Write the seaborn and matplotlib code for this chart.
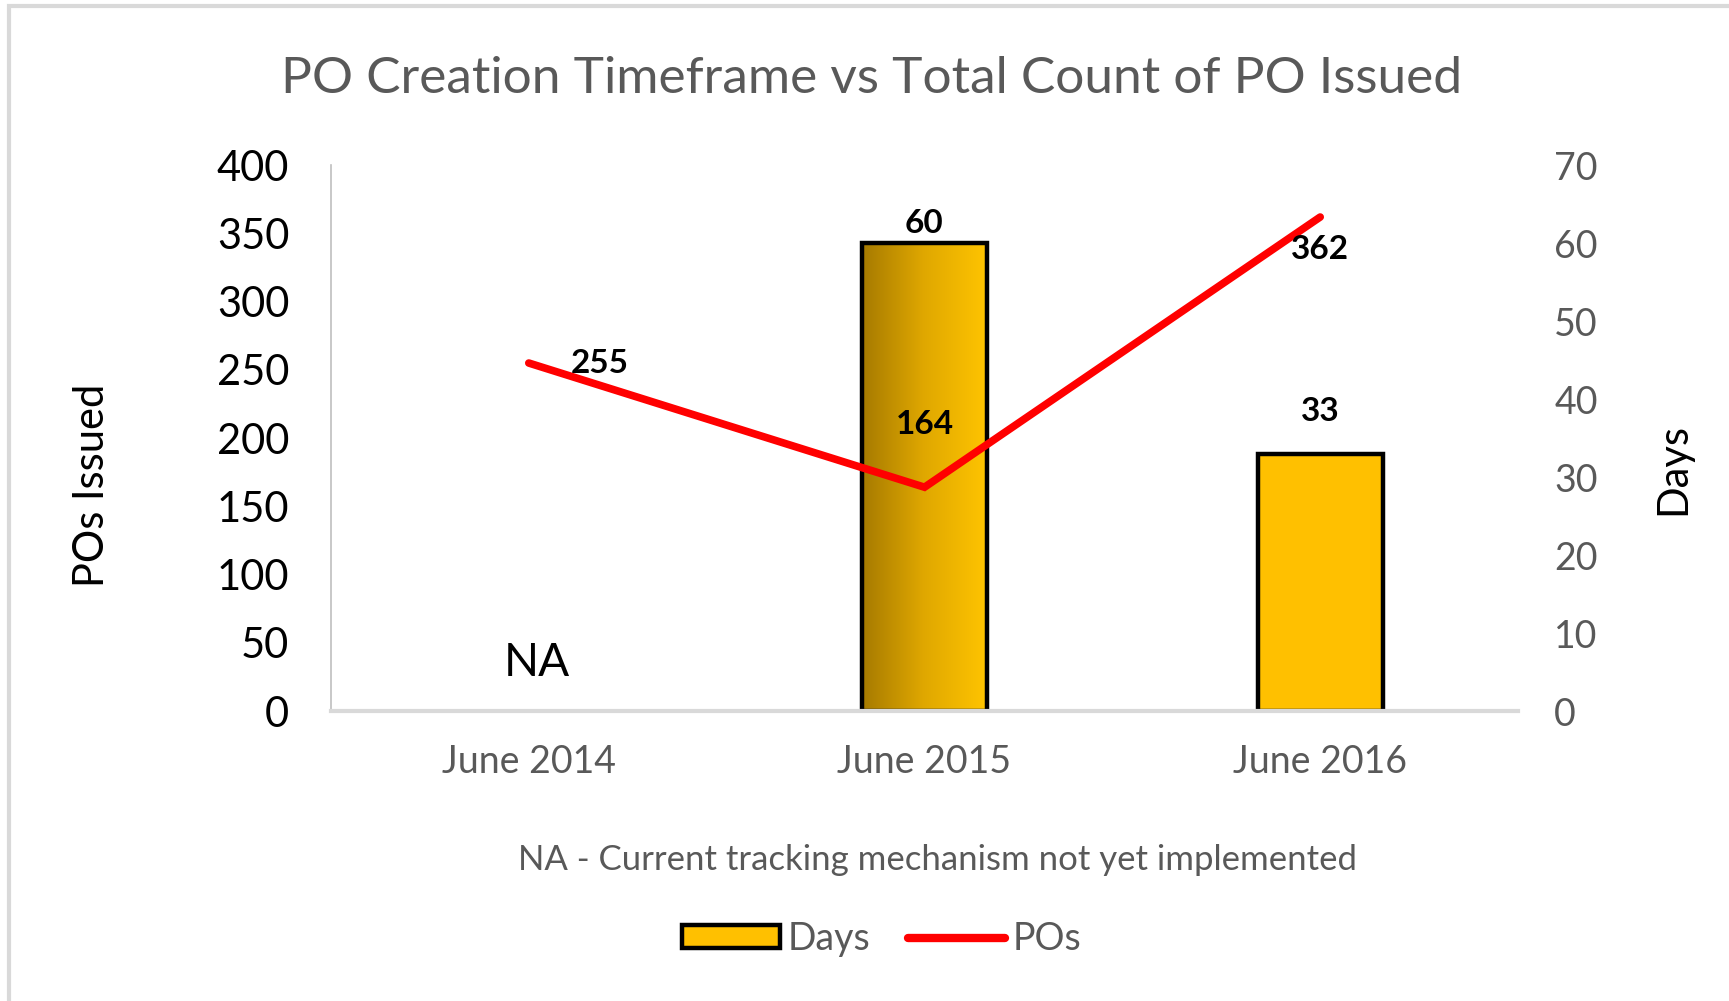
import numpy as np
import matplotlib
matplotlib.use('Agg')
import matplotlib.pyplot as plt
from matplotlib.colors import LinearSegmentedColormap
from matplotlib.patches import Rectangle
from matplotlib.lines import Line2D
import seaborn as sns

# data
months = ['June 2014', 'June 2015', 'June 2016']
days = [np.nan, 60, 33]
pos_issued = [255, 164, 362]
po_ticks = [0, 50, 100, 150, 200, 250, 300, 350, 400]
day_ticks = [0, 10, 20, 30, 40, 50, 60, 70]

sns.set_style('white')
plt.rcParams['font.family'] = ['Lato', 'DejaVu Sans']

gold = '#FFC000'
grey_txt = '#595959'

fig = plt.figure(figsize=(17.29, 10.01), dpi=100)
ax_po = fig.add_axes([0.1914, 0.2897, 0.6866, 0.5453])
ax_days = ax_po.twinx()

# bars for days (right axis)
sns.barplot(x=months, y=days, order=months, ax=ax_days, color=gold, saturation=1,
            width=0.315, edgecolor='black', linewidth=3.2)

# gradient on the June 2015 bar
grad = LinearSegmentedColormap.from_list('g', ['#A67A00', '#E0A800', '#FFC400'])
for p in ax_days.patches:
    cx = p.get_x() + p.get_width() / 2
    if abs(cx - months.index('June 2015')) < 0.1:
        x0, y0, w, h = p.get_x(), p.get_y(), p.get_width(), p.get_height()
        p.set_facecolor('none')
        im = ax_days.imshow(np.linspace(0, 1, 256).reshape(1, -1), cmap=grad,
                            extent=[x0, x0 + w, y0, y0 + h], aspect='auto',
                            zorder=p.get_zorder() - 0.1)
        im.set_clip_path(p)

# line for POs (left axis)
sns.lineplot(x=np.arange(len(months)), y=pos_issued, ax=ax_po, color='#FF0000',
             linewidth=5.5, solid_capstyle='round', solid_joinstyle='miter')
ax_po.set_zorder(ax_days.get_zorder() + 1)
ax_po.patch.set_visible(False)

ax_po.set_ylim(0, 400)
ax_days.set_ylim(0, 70)
ax_po.set_xlim(-0.5, len(months) - 0.5)
ax_po.set_yticks(po_ticks)
ax_days.set_yticks(day_ticks)
ax_po.set_xticks(range(len(months)), months)
ax_po.set_xlabel('')
ax_days.set_xlabel('')

ax_po.tick_params(axis='y', length=0, pad=30, labelsize=30, labelcolor='black')
ax_po.tick_params(axis='x', length=0, pad=24, labelsize=27, labelcolor=grey_txt)
ax_days.tick_params(axis='y', length=0, pad=26, labelsize=27, labelcolor=grey_txt)

for a in (ax_po, ax_days):
    for s in ('top', 'right', 'left', 'bottom'):
        a.spines[s].set_visible(False)
ax_po.spines['left'].set_visible(True)
ax_po.spines['left'].set_color('#BFBFBF')
ax_po.spines['left'].set_linewidth(1.2)
ax_po.spines['bottom'].set_visible(True)
ax_po.spines['bottom'].set_color('#D9D9D9')
ax_po.spines['bottom'].set_linewidth(3)

ax_po.set_ylabel('POs Issued', fontsize=30, color='black')
ax_po.yaxis.set_label_coords(-0.185, 0.414)
ax_days.set_ylabel('Days', fontsize=30, color='black')
ax_days.yaxis.set_label_coords(1.115, 0.443)

# data labels
day_offsets = [6.1, 2.5, 5.4]
for i, v in enumerate(days):
    if np.isnan(v):
        ax_days.text(i + 0.02, day_offsets[i], 'NA', ha='center', va='center', fontsize=33,
                     color='black')
    else:
        ax_days.text(i, v + day_offsets[i], f'{int(v)}', ha='center', va='center',
                     fontsize=24, fontweight='bold', color='black')
po_label_pos = [(0.18, 0), (0, 46), (0, -24)]
for i, v in enumerate(pos_issued):
    dx, dy = po_label_pos[i]
    ax_po.text(i + dx, v + dy, f'{v}', ha='center', va='center',
               fontsize=24, fontweight='bold', color='black')

fig.text(0.504, 0.921, 'PO Creation Timeframe vs Total Count of PO Issued',
         ha='center', va='center', fontsize=37, color=grey_txt)
fig.text(0.542, 0.141, 'NA - Current tracking mechanism not yet implemented',
         ha='center', va='center', fontsize=25, color=grey_txt)

handles = [Rectangle((0, 0), 1, 1, facecolor=gold, edgecolor='black', linewidth=3.2),
           Line2D([0], [0], color='#FF0000', linewidth=6, solid_capstyle='round')]
leg = fig.legend(handles, ['Days', 'POs'], loc='center', bbox_to_anchor=(0.51, 0.062),
                 ncol=2, frameon=False, fontsize=27, handlelength=2.6, handleheight=0.55,
                 handletextpad=0.2, columnspacing=1.0)
for t in leg.get_texts():
    t.set_color(grey_txt)

# outer chart border
fig.patches.append(Rectangle((0.0052, -0.1), 1.2, 1.094, transform=fig.transFigure,
                             fill=False, edgecolor='#D9D9D9', linewidth=3))

fig.savefig('out.png', dpi=100)
